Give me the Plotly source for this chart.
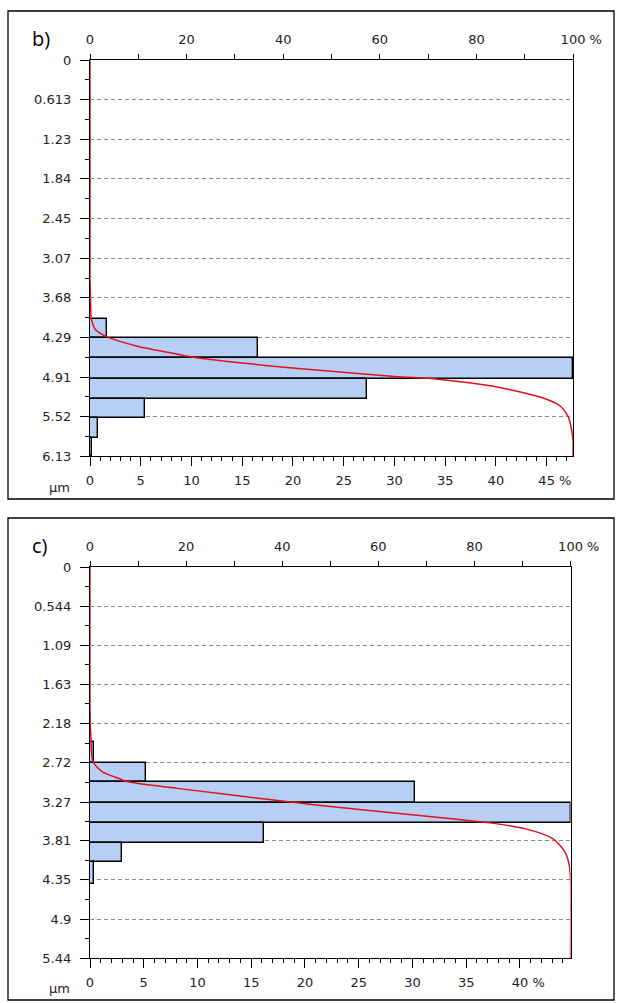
import plotly.graph_objects as go

# ---------------- data ----------------
# panel b)
b_ytick_vals = [0, 0.613, 1.23, 1.84, 2.45, 3.07, 3.68, 4.29, 4.91, 5.52, 6.13]
b_bin_edges = [4.01, 4.30, 4.615, 4.94, 5.24, 5.54, 5.85, 6.13]
b_bin_pct = [1.67, 16.6, 47.6, 27.3, 5.4, 0.74, 0.15]
b_pct_max = 47.6
b_cum_y = [0, 3.40, 3.68, 3.85, 4.01, 4.18, 4.29, 4.43, 4.54, 4.61, 4.77, 4.90, 4.94,
           5.05, 5.24, 5.36, 5.52, 5.72, 5.88, 6.13]
b_cum_x = [0, 0, 0.1, 0.15, 0.3, 1.2, 3.7, 9.8, 17.2, 22.0, 42.5, 63.0, 72.0,
           83.5, 94.1, 97.4, 99.0, 99.7, 100, 100]

# panel c)
c_ytick_vals = [0, 0.544, 1.09, 1.63, 2.18, 2.72, 3.27, 3.81, 4.35, 4.9, 5.44]
c_bin_edges = [2.436, 2.72, 2.985, 3.289, 3.56, 3.84, 4.11, 4.41]
c_bin_pct = [0.37, 5.25, 30.25, 44.7, 16.2, 3.0, 0.4]
c_pct_max = 44.7
c_cum_y = [0, 2.20, 2.38, 2.57, 2.72, 2.85, 2.94, 2.985, 3.08, 3.26, 3.31, 3.45, 3.56,
           3.64, 3.78, 3.96, 4.15, 4.35, 5.44]
c_cum_x = [0, 0.05, 0.2, 0.3, 0.7, 2.6, 5.9, 7.6, 18.2, 40.4, 47.0, 67.5, 83.2,
           90.5, 96.3, 98.8, 99.75, 100, 100]

top_ticks = [0, 20, 40, 60, 80, 100]
b_bottom_ticks = [0, 5, 10, 15, 20, 25, 30, 35, 40, 45]
c_bottom_ticks = [0, 5, 10, 15, 20, 25, 30, 35, 40]

# ---------------- styling ----------------
FONT = "DejaVu Sans"
TXT = "#222222"
BAR_FILL = "#b7cef5"
RED = "#e3101c"
GRID = "#8a8a8a"
NB = "\u00a0"

fig = go.Figure()


def centers(edges):
    return [(edges[i] + edges[i + 1]) / 2 for i in range(len(edges) - 1)]


def widths(edges):
    return [edges[i + 1] - edges[i] for i in range(len(edges) - 1)]


def fmt(v):
    return f"{v:g}"


# panel b traces
fig.add_trace(go.Bar(orientation="h", y=centers(b_bin_edges), x=b_bin_pct,
                     width=widths(b_bin_edges), marker=dict(color=BAR_FILL,
                     line=dict(color="black", width=1.4)),
                     xaxis="x", yaxis="y", showlegend=False, cliponaxis=False))
fig.add_trace(go.Scatter(x=b_cum_x, y=b_cum_y, mode="lines",
                         line=dict(color=RED, width=1.5, shape="spline", smoothing=0.7),
                         xaxis="x2", yaxis="y", showlegend=False))
# panel c traces
fig.add_trace(go.Bar(orientation="h", y=centers(c_bin_edges), x=c_bin_pct,
                     width=widths(c_bin_edges), marker=dict(color=BAR_FILL,
                     line=dict(color="black", width=1.4)),
                     xaxis="x3", yaxis="y2", showlegend=False, cliponaxis=False))
fig.add_trace(go.Scatter(x=c_cum_x, y=c_cum_y, mode="lines",
                         line=dict(color=RED, width=1.5, shape="spline", smoothing=0.7),
                         xaxis="x4", yaxis="y2", showlegend=False))

W, H = 619, 1003
def px_x(v):
    return v / W
def px_y(v):
    return 1 - v / H

tick_font = dict(family=FONT, size=13, color=TXT)

def bottom_axis(dom, pmax, ticks, anchor):
    txt = [fmt(t) for t in ticks]
    txt[-1] = NB * 4 + txt[-1] + " %"
    return dict(domain=dom, range=[0, pmax], anchor=anchor, side="bottom",
                automargin=False,
                tickmode="array", tickvals=ticks, ticktext=txt,
                ticks="outside", ticklen=9, tickwidth=1, tickcolor="black",
                ticklabelstandoff=3,
                minor=dict(dtick=1, ticklen=4, ticks="outside", tickcolor="black", tickwidth=1),
                showline=True, linecolor="black", linewidth=1.2,
                showgrid=False, zeroline=False, tickfont=tick_font, fixedrange=True)

def top_axis(dom, anchor, overlay):
    txt = [fmt(t) for t in top_ticks]
    txt[-1] = NB * 4 + txt[-1] + " %"
    return dict(domain=dom, range=[0, 100], anchor=anchor, overlaying=overlay, side="top",
                automargin=False,
                tickmode="array", tickvals=top_ticks, ticktext=txt,
                ticks="outside", ticklen=5, tickwidth=1, tickcolor="black",
                ticklabelstandoff=5,
                minor=dict(dtick=10, ticklen=5, ticks="outside", tickcolor="black", tickwidth=1),
                showline=True, linecolor="black", linewidth=1.2,
                showgrid=False, zeroline=False, tickfont=tick_font, fixedrange=True)

def left_axis(dom, vals, anchor):
    return dict(domain=dom, range=[vals[-1], vals[0]], anchor=anchor,
                automargin=False,
                tickmode="array", tickvals=vals, ticktext=[fmt(v) for v in vals],
                ticks="outside", ticklen=9, tickwidth=1, tickcolor="black",
                ticklabelstandoff=6,
                minor=dict(tickmode="array",
                           tickvals=[(vals[i] + vals[i + 1]) / 2 for i in range(len(vals) - 1)],
                           ticklen=4, ticks="outside", tickcolor="black", tickwidth=1,
                           showgrid=False),
                showline=True, linecolor="black", linewidth=1.2, mirror=True,
                showgrid=True, gridcolor=GRID, griddash="4px,3px", gridwidth=1,
                zeroline=False, tickfont=tick_font, fixedrange=True)

b_xdom = [px_x(90), px_x(573)]
b_ydom = [px_y(456), px_y(60)]
c_xdom = [px_x(90), px_x(570.5)]
c_ydom = [px_y(958), px_y(567)]

fig.update_layout(
    template="none",
    width=W, height=H, margin=dict(l=0, r=0, t=0, b=0, pad=0),
    paper_bgcolor="white", plot_bgcolor="white",
    barmode="overlay", bargap=0,
    xaxis=bottom_axis(b_xdom, b_pct_max, b_bottom_ticks, "y"),
    xaxis2=top_axis(b_xdom, "y", "x"),
    yaxis=left_axis(b_ydom, b_ytick_vals, "x"),
    xaxis3=bottom_axis(c_xdom, c_pct_max, c_bottom_ticks, "y2"),
    xaxis4=top_axis(c_xdom, "y2", "x3"),
    yaxis2=left_axis(c_ydom, c_ytick_vals, "x3"),
    font=dict(family=FONT, color=TXT),
)

# panel frames
fig.add_shape(type="rect", xref="paper", yref="paper",
              x0=px_x(8), x1=px_x(614), y0=px_y(499), y1=px_y(11),
              line=dict(color="black", width=1.3), layer="above")
fig.add_shape(type="rect", xref="paper", yref="paper",
              x0=px_x(8), x1=px_x(614), y0=px_y(1000), y1=px_y(518),
              line=dict(color="black", width=1.3), layer="above")

# panel labels and units
for lab, yy in [("b)", 39), ("c)", 545)]:
    fig.add_annotation(text=lab, xref="paper", yref="paper", x=px_x(30), y=px_y(yy),
                       xanchor="left", yanchor="middle", showarrow=False,
                       font=dict(family="Open Sans", size=20, color="black"))
for yy in [487, 988]:
    fig.add_annotation(text="µm", xref="paper", yref="paper", x=px_x(72), y=px_y(yy),
                       xanchor="right", yanchor="middle", showarrow=False,
                       font=tick_font)

fig.write_html(
    "out.html",
    config={"displayModeBar": False},
    post_script=("document.documentElement.style.margin='0';"
                 "document.body.style.margin='0';"
                 "document.body.style.overflow='hidden';"
                 "document.documentElement.style.overflow='hidden';"),
)
